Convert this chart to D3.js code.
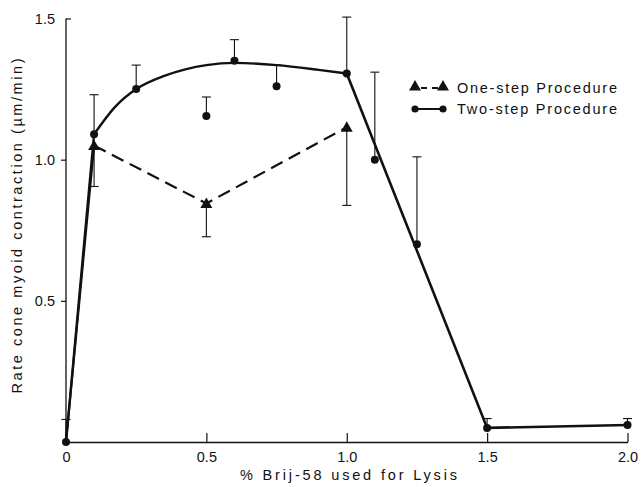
<!DOCTYPE html>
<html>
<head>
<meta charset="utf-8">
<script src="https://cdn.jsdelivr.net/npm/d3@7"></script>
<style>
  html, body { margin: 0; padding: 0; background: #fff; }
  text { font-family: "Liberation Sans", Arial, sans-serif; fill: #111; }
</style>
</head>
<body>
<svg id="chart" width="641" height="487"></svg>
<script>
// ---- data ----
const xTicks = [0, 0.5, 1.0, 1.5, 2.0];
const xTickLabels = ["0", "0.5", "1.0", "1.5", "2.0"];
const yTicks = [0.5, 1.0, 1.5];
const yTickLabels = ["0.5", "1.0", "1.5"];

// Two-step procedure (circles, solid line, error bars upward)
const twoStepX   = [0, 0.1, 0.25, 0.5, 0.6, 0.75, 1.0, 1.1, 1.25, 1.5, 2.0];
const twoStepY   = [0, 1.09, 1.25, 1.155, 1.35, 1.26, 1.305, 1.0, 0.70, 0.05, 0.06];
const twoStepErr = [0.08, 0.14, 0.085, 0.067, 0.075, 0.075, 0.2, 0.31, 0.31, 0.033, 0.023];
// Fitted curve for the two-step procedure between 0.1 and 1.0
const twoStepFitX = [0.1, 0.175, 0.25, 0.35, 0.425, 0.5, 0.6, 0.75, 0.9, 1.0];
const twoStepFitY = [1.09, 1.187, 1.25, 1.297, 1.32, 1.335, 1.343, 1.335, 1.318, 1.305];
// Straight segments of the two-step line
const twoStepRiseX = [0, 0.1];
const twoStepRiseY = [0, 1.09];
const twoStepFallX = [1.0, 1.5, 2.0];
const twoStepFallY = [1.305, 0.05, 0.06];

// One-step procedure (triangles, dashed line, error bars downward)
const oneStepX   = [0, 0.1, 0.5, 1.0];
const oneStepY   = [0, 1.05, 0.845, 1.115];
const oneStepErr = [0, 0.145, 0.118, 0.277];

const legendLabels = ["One-step Procedure", "Two-step Procedure"];
const xTitle = "% Brij-58 used for Lysis";
const yTitle = "Rate  cone  myoid  contraction  (\u00b5m/min)";

// ---- drawing ----
const svg = d3.select("#chart");
const x = d3.scaleLinear().domain([0, 2]).range([66, 627.5]);
const y = d3.scaleLinear().domain([0, 1.5]).range([442, 18.5]);
const ink = "#111";

// axes
const xAxis = d3.axisBottom(x).tickValues(xTicks)
  .tickFormat((d, i) => xTickLabels[i]).tickSizeInner(-9).tickSizeOuter(0).tickPadding(10);
const gx = svg.append("g").attr("transform", `translate(0,${y(0)})`).call(xAxis);
gx.select(".domain").attr("stroke", ink).attr("stroke-width", 1.3);
gx.selectAll(".tick line").attr("stroke", ink).attr("stroke-width", 1.2);
gx.selectAll(".tick text").attr("font-size", 14.5).attr("font-family", "Liberation Sans, Arial, sans-serif").attr("fill", ink);

const yAxis = d3.axisLeft(y).tickValues(yTicks)
  .tickFormat((d, i) => yTickLabels[i]).tickSizeInner(5).tickSizeOuter(0).tickPadding(6);
const gy = svg.append("g").attr("transform", `translate(${x(0)},0)`).call(yAxis);
gy.select(".domain").attr("stroke", ink).attr("stroke-width", 1.3)
  .attr("d", `M0,${y(1.5)}V${y(0)}`);
gy.selectAll(".tick line").attr("stroke", ink).attr("stroke-width", 1.2)
  .attr("x2", d => d === 1.5 ? 5 : -5);
gy.selectAll(".tick text").attr("font-size", 14.5).attr("font-family", "Liberation Sans, Arial, sans-serif").attr("fill", ink);

// axis titles
svg.append("text")
  .attr("x", 348.5).attr("y", 480)
  .attr("text-anchor", "middle").attr("font-size", 14.5)
  .attr("textLength", 217).attr("lengthAdjust", "spacing")
  .text(xTitle);
svg.append("text")
  .attr("transform", "translate(22,226) rotate(-90)")
  .attr("text-anchor", "middle").attr("font-size", 14.5)
  .attr("textLength", 335).attr("lengthAdjust", "spacing")
  .text(yTitle);

// lines
const line = d3.line().x(d => x(d[0])).y(d => y(d[1]));
const curve = d3.line().x(d => x(d[0])).y(d => y(d[1])).curve(d3.curveMonotoneX);

const oneStepPts = oneStepX.map((v, i) => [v, oneStepY[i]]);
// one-step: first segment solid, rest dashed
svg.append("path").attr("d", line(oneStepPts.slice(0, 2)))
  .attr("fill", "none").attr("stroke", ink).attr("stroke-width", 2.2);
svg.append("path").attr("d", line(oneStepPts.slice(1)))
  .attr("fill", "none").attr("stroke", ink).attr("stroke-width", 2.2)
  .attr("stroke-dasharray", "13,7");

svg.append("path").attr("d", line(twoStepRiseX.map((v, i) => [v, twoStepRiseY[i]])))
  .attr("fill", "none").attr("stroke", ink).attr("stroke-width", 2.4);
svg.append("path").attr("d", curve(twoStepFitX.map((v, i) => [v, twoStepFitY[i]])))
  .attr("fill", "none").attr("stroke", ink).attr("stroke-width", 2.4);
svg.append("path").attr("d", line(twoStepFallX.map((v, i) => [v, twoStepFallY[i]])))
  .attr("fill", "none").attr("stroke", ink).attr("stroke-width", 2.6);

// error bars
const capW = 4.5;
function errBar(xv, y0, y1) {
  const g = svg.append("g").attr("stroke", ink).attr("stroke-width", 1.1);
  g.append("line").attr("x1", x(xv)).attr("x2", x(xv)).attr("y1", y(y0)).attr("y2", y(y1));
  g.append("line").attr("x1", x(xv) - capW).attr("x2", x(xv) + capW).attr("y1", y(y1)).attr("y2", y(y1));
}
twoStepX.forEach((v, i) => errBar(v, twoStepY[i], twoStepY[i] + twoStepErr[i]));
oneStepX.forEach((v, i) => { if (oneStepErr[i] > 0) errBar(v, oneStepY[i], oneStepY[i] - oneStepErr[i]); });

// markers
const tri = d3.symbol().type(d3.symbolTriangle).size(62);
svg.selectAll(".tri").data(oneStepPts.slice(1)).enter().append("path")
  .attr("d", tri).attr("transform", d => `translate(${x(d[0])},${y(d[1]) + 1})`)
  .attr("fill", ink);
svg.selectAll(".dot").data(twoStepX.map((v, i) => [v, twoStepY[i]])).enter().append("circle")
  .attr("cx", d => x(d[0])).attr("cy", d => y(d[1])).attr("r", 4).attr("fill", ink);

// legend
const lg = svg.append("g");
lg.append("line").attr("x1", 415).attr("x2", 443).attr("y1", 88).attr("y2", 88)
  .attr("stroke", ink).attr("stroke-width", 2).attr("stroke-dasharray", "6,5").attr("stroke-dashoffset", -6);
[415, 443].forEach(cx => lg.append("path").attr("d", tri).attr("transform", `translate(${cx},87)`).attr("fill", ink));
lg.append("line").attr("x1", 415).attr("x2", 443).attr("y1", 109).attr("y2", 109)
  .attr("stroke", ink).attr("stroke-width", 2);
[415, 443].forEach(cx => lg.append("circle").attr("cx", cx).attr("cy", 109).attr("r", 3.6).attr("fill", ink));
lg.append("text").attr("x", 457).attr("y", 93).attr("font-size", 14.5)
  .attr("textLength", 160).attr("lengthAdjust", "spacing").text(legendLabels[0]);
lg.append("text").attr("x", 457).attr("y", 114).attr("font-size", 14.5)
  .attr("textLength", 160).attr("lengthAdjust", "spacing").text(legendLabels[1]);
</script>
</body>
</html>
